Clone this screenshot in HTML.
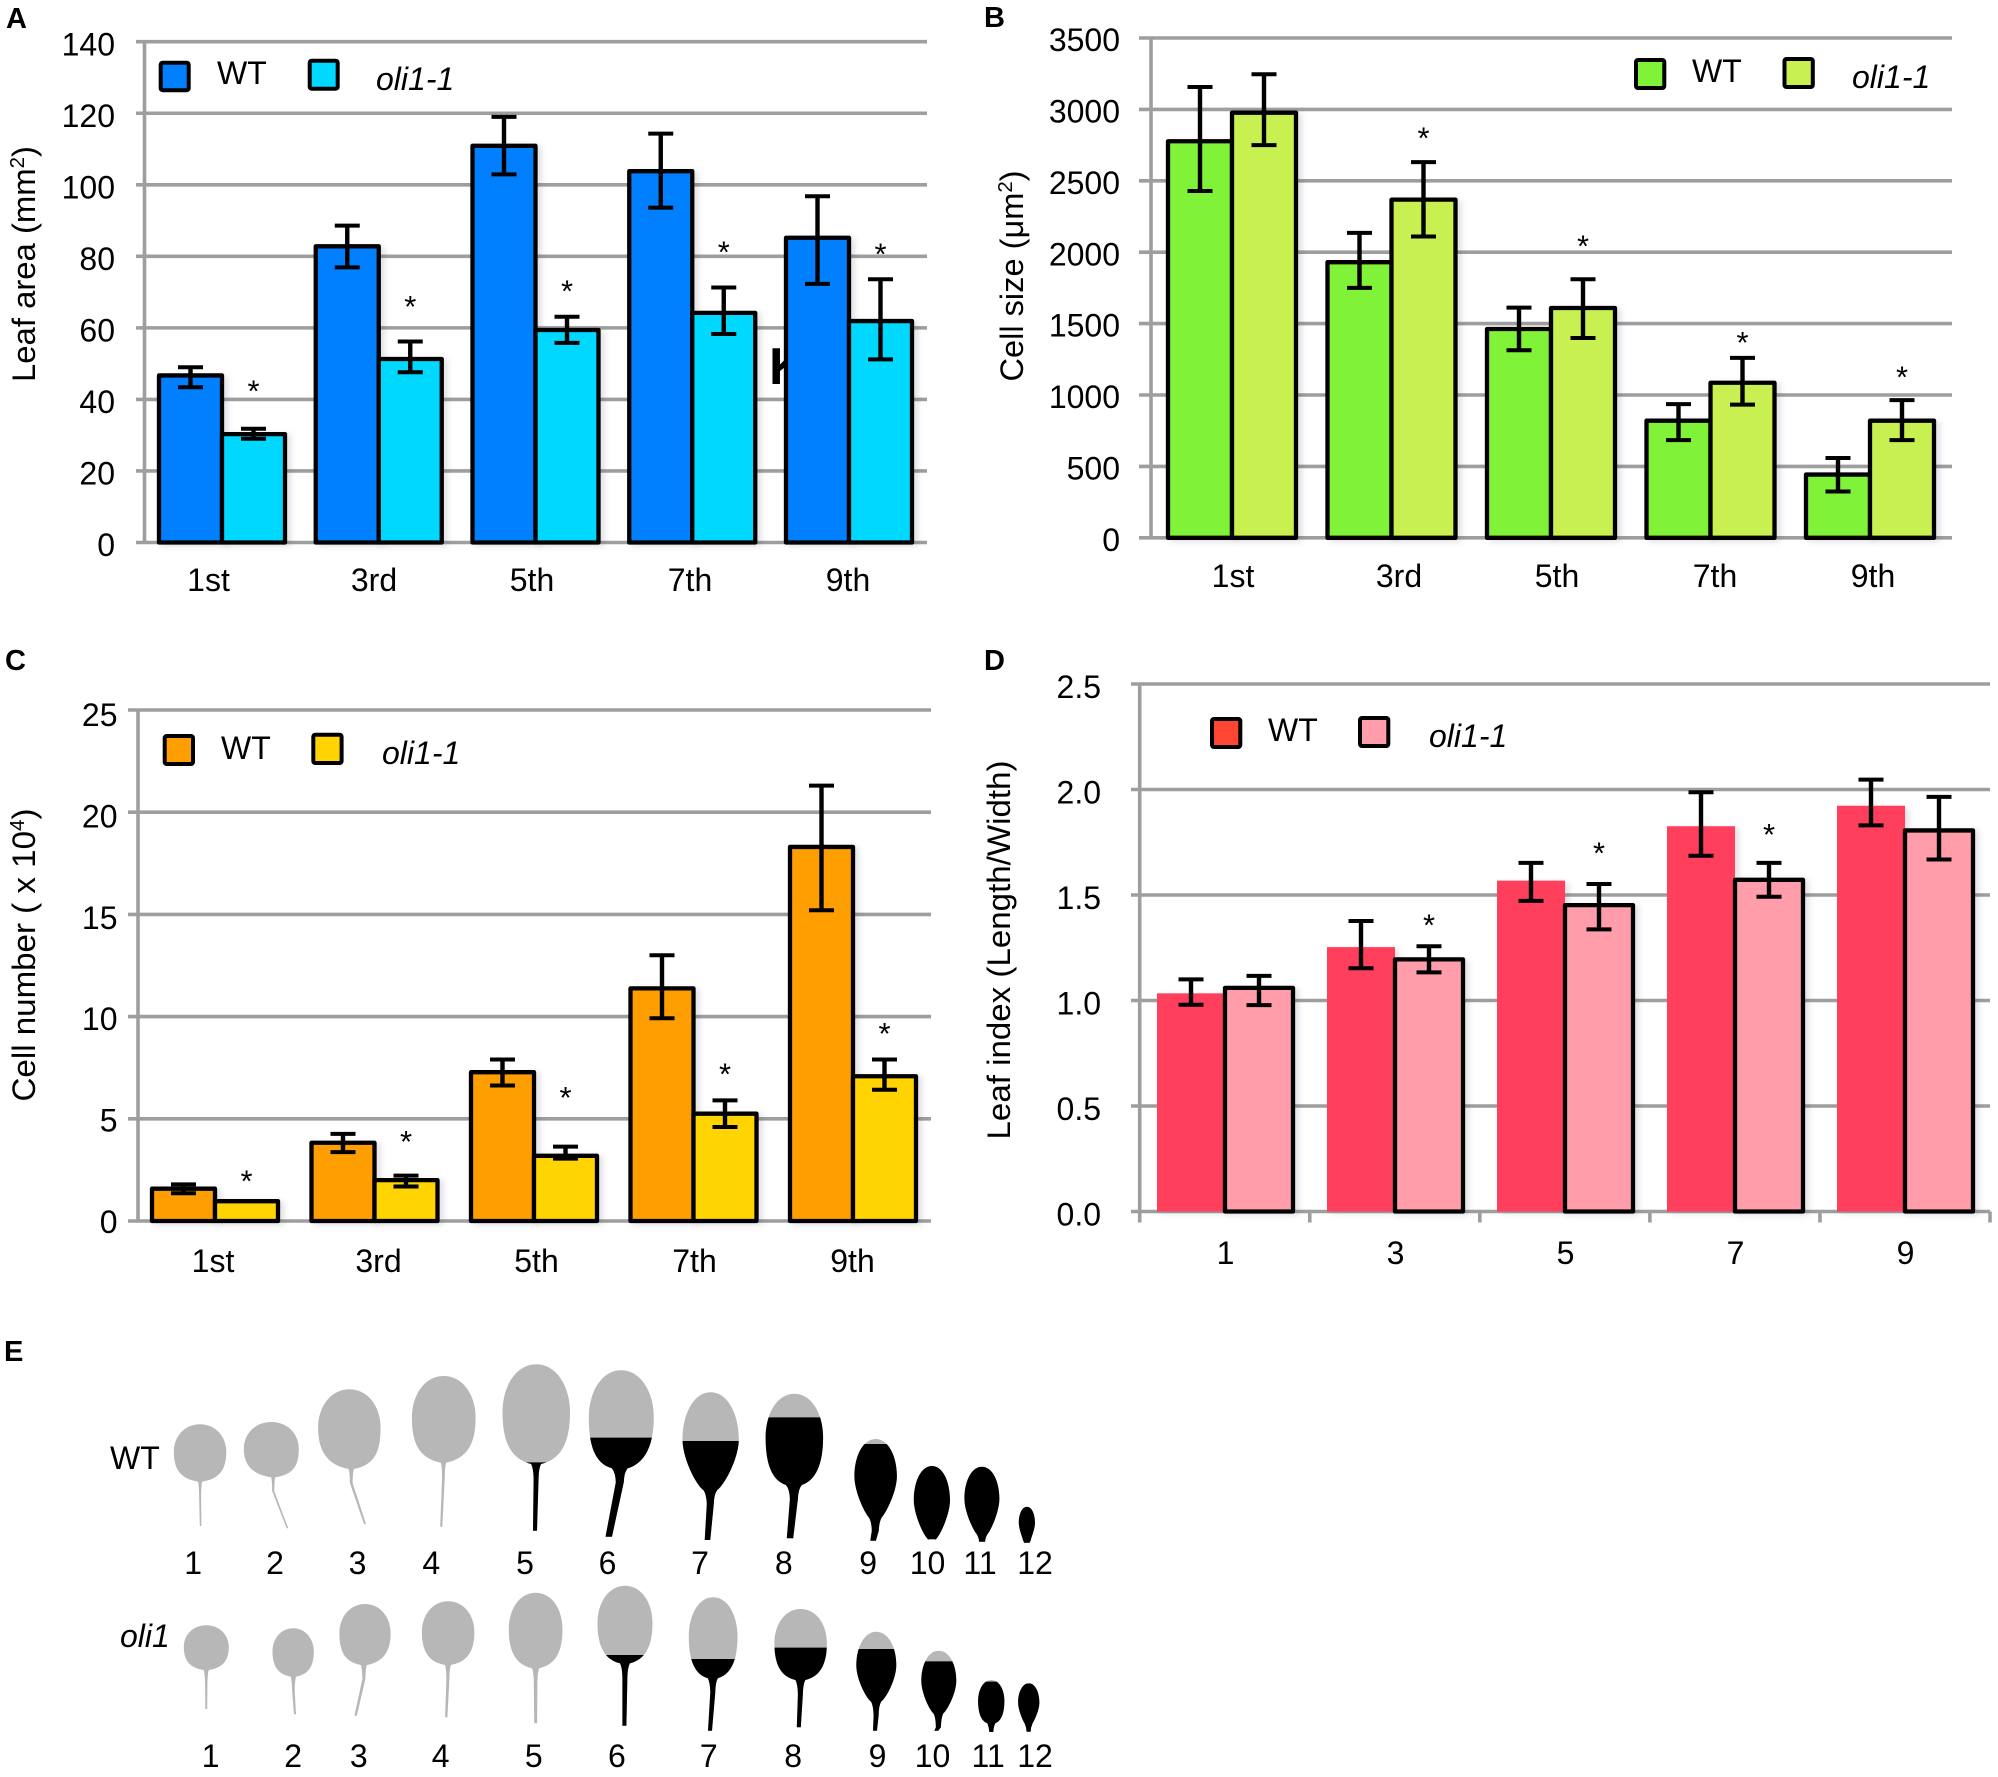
<!DOCTYPE html>
<html lang="en">
<head>
<meta charset="utf-8">
<title>Leaf measurements in WT and oli1-1</title>
<style>
html,body{margin:0;padding:0;background:#fff}
svg{display:block}
text{font-family:"Liberation Sans",Arial,sans-serif;fill:#000}
.num{font-size:32px}
.letter{font-size:29px;font-weight:bold}
.ital{font-style:italic}
.sw{stroke:#000;stroke-width:4}
.bar{filter:drop-shadow(4px 2px 3px rgba(60,60,90,.14))}
</style>
</head>
<body>
<svg id="figure" xmlns="http://www.w3.org/2000/svg" width="1998" height="1777" viewBox="0 0 1998 1777">
  <rect width="1998" height="1777" fill="#fff"/>
  <text class="letter" x="6" y="28">A</text>
  <text class="letter" x="984" y="27">B</text>
  <text class="letter" x="5" y="670">C</text>
  <text class="letter" x="984" y="670">D</text>
  <text class="letter" x="4" y="1361">E</text>

  <g id="chart-a"></g>
  <g id="chart-b"></g>
  <g id="chart-c"></g>
  <g id="chart-d"></g>
  <g id="leaves"></g>

  <text class="num" transform="translate(35,264) rotate(-90)" text-anchor="middle" textLength="236" lengthAdjust="spacingAndGlyphs">Leaf area (mm<tspan font-size="20" dy="-11">2</tspan><tspan dy="11">)</tspan></text>
  <text class="num" transform="translate(1023,276) rotate(-90)" text-anchor="middle" textLength="211" lengthAdjust="spacingAndGlyphs">Cell size (μm<tspan font-size="20" dy="-11">2</tspan><tspan dy="11">)</tspan></text>
  <text class="num" transform="translate(35,955) rotate(-90)" text-anchor="middle" textLength="293" lengthAdjust="spacingAndGlyphs">Cell number ( x 10<tspan font-size="20" dy="-11">4</tspan><tspan dy="11">)</tspan></text>
  <text class="num" transform="translate(1010,950) rotate(-90)" text-anchor="middle" textLength="379" lengthAdjust="spacingAndGlyphs">Leaf index (Length/Width)</text>

  <g>
    <rect class="sw" x="160.7" y="62.7" width="28" height="27.5" rx="2" fill="#0080ff"/>
    <text class="num" x="217" y="84">WT</text>
    <rect class="sw" x="309.7" y="60.7" width="28" height="28" rx="2" fill="#00d8ff"/>
    <text class="num ital" x="376" y="90">oli1-1</text>
  </g>
  <g>
    <rect class="sw" x="1636" y="60" width="28.3" height="28" rx="2" fill="#80f238"/>
    <text class="num" x="1692" y="82">WT</text>
    <rect class="sw" x="1784.5" y="59" width="28.3" height="28" rx="2" fill="#c8f050"/>
    <text class="num ital" x="1852" y="88">oli1-1</text>
  </g>
  <g>
    <rect class="sw" x="164.7" y="736" width="28.3" height="28" rx="2" fill="#ff9e00"/>
    <text class="num" x="221" y="759">WT</text>
    <rect class="sw" x="313.3" y="734.7" width="28.3" height="28.3" rx="2" fill="#ffd400"/>
    <text class="num ital" x="382" y="764">oli1-1</text>
  </g>
  <g>
    <rect class="sw" x="1212" y="719" width="28.3" height="28" rx="2" fill="#ff4633"/>
    <text class="num" x="1268" y="741">WT</text>
    <rect class="sw" x="1360" y="718" width="28.3" height="28" rx="2" fill="#ff9eaa"/>
    <text class="num ital" x="1429" y="747">oli1-1</text>
  </g>

  <text class="num" x="110" y="1469">WT</text>
  <text class="num ital" x="120" y="1647">oli1</text>
</svg>

<script>
// Panel A: leaf area
const areaCategories = ['1st','3rd','5th','7th','9th'];
const areaTicks = [0,20,40,60,80,100,120,140];
const areaWT = [46.7,82.8,110.9,103.8,85.2];
const areaWTHigh = [49,88.6,119,114.3,96.8];
const areaWTLow = [43.4,76.9,102.9,93.6,72.3];
const areaOli = [30.3,51.3,59.4,64.2,61.9];
const areaOliHigh = [31.8,56.2,63.1,71.3,73.6];
const areaOliLow = [29,47.6,55.8,58.3,51.2];
const areaStars = [43.9,67.5,71.9,82.7,82.2];

// Panel B: cell size
const sizeCategories = ['1st','3rd','5th','7th','9th'];
const sizeTicks = [0,500,1000,1500,2000,2500,3000,3500];
const sizeWT = [2777,1930,1462,820,443];
const sizeWTHigh = [3157,2135,1612,936,559];
const sizeWTLow = [2429,1750,1313,684,324];
const sizeOli = [2977,2368,1609,1086,820];
const sizeOliHigh = [3246,2631,1811,1260,964];
const sizeOliLow = [2750,2110,1399,933,684];
const sizeStars = [null,2838,2082,1407,1163];

// Panel C: cell number
const numberCategories = ['1st','3rd','5th','7th','9th'];
const numberTicks = [0,5,10,15,20,25];
const numberWT = [1.58,3.83,7.28,11.38,18.3];
const numberWTHigh = [1.79,4.26,7.9,13.0,21.3];
const numberWTLow = [1.36,3.37,6.63,9.92,15.2];
const numberOli = [0.97,2.0,3.19,5.25,7.08];
const numberOliHigh = [0.97,2.22,3.64,5.9,7.9];
const numberOliLow = [0.97,1.69,3.05,4.6,6.42];
const numberStars = [2.22,4.16,6.32,7.45,9.44];

// Panel D: leaf index
const indexCategories = ['1','3','5','7','9'];
const indexTicks = ['0.0','0.5','1.0','1.5','2.0','2.5'];
const indexWT = [1.034,1.253,1.568,1.826,1.923];
const indexWTHigh = [1.10,1.377,1.652,1.987,2.047];
const indexWTLow = [0.98,1.153,1.472,1.686,1.83];
const indexOli = [1.06,1.195,1.452,1.572,1.806];
const indexOliHigh = [1.117,1.257,1.552,1.652,1.965];
const indexOliLow = [0.978,1.133,1.337,1.492,1.668];
const indexStars = [null,1.383,1.726,1.812,null];

const NS = 'http://www.w3.org/2000/svg';
const GRID = '#9e9e9e';

function make(parent, tag, attrs, text) {
  const node = document.createElementNS(NS, tag);
  for (const k in attrs) node.setAttribute(k, attrs[k]);
  if (text !== undefined) node.textContent = text;
  parent.appendChild(node);
  return node;
}

function drawChart(o) {
  const g = document.getElementById(o.id);
  const maxTick = Number(o.ticks[o.ticks.length - 1]);
  const yScale = v => o.y0 + (o.yTop - o.y0) * v / maxTick;
  const tickTextY = v => o.tickBase0 + (o.tickBaseTop - o.tickBase0) * v / maxTick;
  const xBar = (i, s) => o.barStart + i * o.barStep + s * o.barWidth;
  const xMid = (i, s) => xBar(i, s) + o.barWidth / 2;
  const xLabel = i => o.labelStart + i * o.labelStep + (i === 0 ? o.firstNudge : 0);

  o.ticks.forEach(t => {
    const y = yScale(Number(t));
    const line = make(g, 'line', {x1:o.gridLeft, x2:o.gridRight, y1:y, y2:y, stroke:GRID, 'stroke-width':3.6});
    
    
    const label = make(g, 'text', {x:o.tickRight, y:tickTextY(Number(t)), 'text-anchor':'end', class:'num'}, t);
    
    
  });

  const axis = make(g, 'line', {x1:o.axisX, x2:o.axisX, y1:o.yTop, y2:o.y0, stroke:GRID, 'stroke-width':3.6});
  
  

  if (o.xTicks) {
    for (let i = 0; i <= o.categories.length; i++) {
      const x = o.axisX + i * (o.gridRight - o.axisX) / o.categories.length;
      const tick = make(g, 'line', {x1:x, x2:x, y1:o.y0, y2:o.y0 + 11, stroke:GRID, 'stroke-width':3.6});
      
      
    }
  }

  if (o.stray) {
    const stray = make(g, 'text', {x:o.stray.x, y:o.stray.y, 'font-size':52, 'font-weight':'bold'}, 'K');
    
    
  }

  o.categories.forEach((c, i) => {
    const wtBar = make(g, 'rect', {x:xBar(i,0), y:yScale(o.wt[i]), width:o.barWidth, height:o.y0 - yScale(o.wt[i]), fill:o.wtColor, class:'bar',
      stroke:o.wtStroke ? '#000' : 'none', 'stroke-width':4.3, 'stroke-linejoin':'round'});
    
    
    const oliBar = make(g, 'rect', {x:xBar(i,1), y:yScale(o.oli[i]), width:o.barWidth, height:o.y0 - yScale(o.oli[i]), fill:o.oliColor, class:'bar',
      stroke:'#000', 'stroke-width':4.3, 'stroke-linejoin':'round'});
    
    
  });

  o.categories.forEach((c, i) => {
    [[0, o.wtHigh[i], o.wtLow[i]], [1, o.oliHigh[i], o.oliLow[i]]].forEach(e => {
      if (e[1] === e[2]) return;
      const x = xMid(i, e[0]);
      const hi = yScale(e[1]);
      const lo = yScale(e[2]);
      const stem = make(g, 'line', {x1:x, x2:x, y1:hi, y2:lo, stroke:'#000', 'stroke-width':4.4});
      
      
      const capTop = make(g, 'line', {x1:x - 12.5, x2:x + 12.5, y1:hi, y2:hi, stroke:'#000', 'stroke-width':4});
      
      
      const capBottom = make(g, 'line', {x1:x - 12.5, x2:x + 12.5, y1:lo, y2:lo, stroke:'#000', 'stroke-width':4});
      
      
    });

    if (o.stars[i] !== null) {
      const star = make(g, 'text', {x:xMid(i,1), y:yScale(o.stars[i]) + 16, 'text-anchor':'middle', 'font-size':31}, '*');
      
      
    }

    const cat = make(g, 'text', {x:xLabel(i), y:o.labelY, 'text-anchor':'middle', class:'num'}, c);
    
    
  });
}

drawChart({id:'chart-a', categories:areaCategories, ticks:areaTicks,
  wt:areaWT, wtHigh:areaWTHigh, wtLow:areaWTLow, oli:areaOli, oliHigh:areaOliHigh, oliLow:areaOliLow, stars:areaStars,
  wtColor:'#0080ff', oliColor:'#00d8ff', wtStroke:true,
  y0:542.5, yTop:41.7, gridLeft:136, gridRight:927, axisX:144.5, tickRight:115, tickBase0:556, tickBaseTop:55.5,
  barStart:159, barStep:156.75, barWidth:63, labelStart:216, labelStep:158, firstNudge:-7.5, labelY:591,
  stray:{x:769, y:384}});

drawChart({id:'chart-b', categories:sizeCategories, ticks:sizeTicks,
  wt:sizeWT, wtHigh:sizeWTHigh, wtLow:sizeWTLow, oli:sizeOli, oliHigh:sizeOliHigh, oliLow:sizeOliLow, stars:sizeStars,
  wtColor:'#80f238', oliColor:'#c8f050', wtStroke:true,
  y0:537.8, yTop:38, gridLeft:1139, gridRight:1952, axisX:1151, tickRight:1120, tickBase0:551, tickBaseTop:51,
  barStart:1168, barStep:159.5, barWidth:64, labelStart:1241, labelStep:158, firstNudge:-8, labelY:587});

drawChart({id:'chart-c', categories:numberCategories, ticks:numberTicks,
  wt:numberWT, wtHigh:numberWTHigh, wtLow:numberWTLow, oli:numberOli, oliHigh:numberOliHigh, oliLow:numberOliLow, stars:numberStars,
  wtColor:'#ff9e00', oliColor:'#ffd400', wtStroke:true,
  y0:1221, yTop:710, gridLeft:128, gridRight:931, axisX:138, tickRight:117.5, tickBase0:1233, tickBaseTop:726,
  barStart:152, barStep:159.5, barWidth:63, labelStart:220.5, labelStep:158, firstNudge:-7.5, labelY:1272});

drawChart({id:'chart-d', categories:indexCategories, ticks:indexTicks,
  wt:indexWT, wtHigh:indexWTHigh, wtLow:indexWTLow, oli:indexOli, oliHigh:indexOliHigh, oliLow:indexOliLow, stars:indexStars,
  wtColor:'#ff3f5c', oliColor:'#ff9eaa', wtStroke:false,
  y0:1211.5, yTop:684, gridLeft:1131, gridRight:1990, axisX:1139.7, tickRight:1101, tickBase0:1225.5, tickBaseTop:698,
  barStart:1157, barStep:170, barWidth:68, labelStart:1225.5, labelStep:170, firstNudge:0, labelY:1264, xTicks:true});

// Panel E: leaf silhouettes, measured as [centre, half-width, top, blade bottom, stem x, stem bottom, cut, stem half-width]
const wtLeaves = [
  [176,42,313,485,177,618,null,1],[290,44,306,472,316,625,null,1],[415,50,208,447,440,612,null,1.3],[566,51,168,428,562,620,null,1.3],
  [714,54,133,432,712,632,427,2.5],[850,52,151,445,830,650,353,4],[993,45,217,510,988,660,363,3.5],[1127,46,221,495,1120,655,292,4],
  [1257,34,357,590,1253,662,372,3.5],[1347,29,438,650,1347,658,438,3],[1427,28,440,640,1430,665,440,3],[1499,13,560,660,1499,668,560,2]
];
const oliLeaves = [
  [186,36,916,1050,186,1167,null,1.2],[325,33,925,1070,328,1183,null,1.3],[440,41,852,1035,425,1187,null,1.5],[573,42,844,1035,570,1192,null,1.5],
  [713,43,818,1045,713,1210,null,1.8],[856,44,797,1030,855,1217,1005,2.5],[997,39,832,1075,992,1232,1017,2.5],[1137,42,867,1080,1134,1222,983,2.5],
  [1258,32,935,1145,1256,1232,987,2.5],[1358,28,992,1180,1354,1232,1024,2.5],[1442,21,1080,1210,1442,1236,1085,2],[1502,17,1090,1210,1500,1235,1090,2]
];
const wtLeafLabels = ['1','2','3','4','5','6','7','8','9','10','11','12'];
const wtLeafLabelCentres = [165,296,428,546,696,828,976,1110,1245,1340,1424,1512];
const oliLeafLabelCentres = [193,325,430,561,710,843,990,1125,1260,1348,1437,1512];

const leafX = v => 90 + v / 1.6;
const leafY = v => 1320 + v / 3;
const leafGroup = document.getElementById('leaves');
let clipCount = 0;

function leafPath(l) {
  const cx = leafX(l[0]), hw = l[1] / 1.6, top = leafY(l[2]), bot = leafY(l[3]), sx = leafX(l[4]), sb = leafY(l[5]), st = l[7];
  const h = bot - top;
  const nx = leafX(l[0] + (l[4] - l[0]) * 0.12);
  const pointed = hw / h < 0.3;
  const lowY = top + h * (pointed ? 0.68 : 0.78);
  const shoulder = pointed ? 0.5 : 0.75;
  const flareY = Math.min(bot + 14, sb);
  const p = (x, y) => x.toFixed(1) + ' ' + y.toFixed(1);
  return 'M' + p(cx, top) +
    'C' + p(cx + hw * 0.6, top) + ' ' + p(cx + hw, top + h * 0.22) + ' ' + p(cx + hw, top + h * 0.48) +
    'C' + p(cx + hw, lowY) + ' ' + p(nx + hw * shoulder, bot - h * 0.05) + ' ' + p(nx + st * 2, bot) +
    'Q' + p(nx + st * 1.1, bot + 4) + ' ' + p(nx + st, flareY) +
    'L' + p(sx + st * 0.8, sb) + 'L' + p(sx - st * 0.8, sb) + 'L' + p(nx - st, flareY) +
    'Q' + p(nx - st * 1.1, bot + 4) + ' ' + p(nx - st * 2, bot) +
    'C' + p(nx - hw * shoulder, bot - h * 0.05) + ' ' + p(cx - hw, lowY) + ' ' + p(cx - hw, top + h * 0.48) +
    'C' + p(cx - hw, top + h * 0.22) + ' ' + p(cx - hw * 0.6, top) + ' ' + p(cx, top) + 'Z';
}

function drawLeaf(l) {
  const d = leafPath(l);
  const grey = make(leafGroup, 'path', {d:d, fill:'#b7b7b7'});
  
  
  if (l[6] !== null) {
    clipCount++;
    const clip = make(leafGroup, 'clipPath', {id:'leaf-cut-' + clipCount});
    make(clip, 'rect', {x:0, y:leafY(l[6]), width:1998, height:1777 - leafY(l[6])});
    const dark = make(leafGroup, 'path', {d:d, fill:'#000', 'clip-path':'url(#leaf-cut-' + clipCount + ')'});
    
    
  }
}

wtLeaves.forEach(drawLeaf);
oliLeaves.forEach(drawLeaf);

wtLeafLabels.forEach((t, i) => {
  const a = make(leafGroup, 'text', {x:leafX(wtLeafLabelCentres[i]), y:1574, 'text-anchor':'middle', class:'num'}, t);
  
  
  const b = make(leafGroup, 'text', {x:leafX(oliLeafLabelCentres[i]), y:1767, 'text-anchor':'middle', class:'num'}, t);
  
  
});
</script>
</body>
</html>
